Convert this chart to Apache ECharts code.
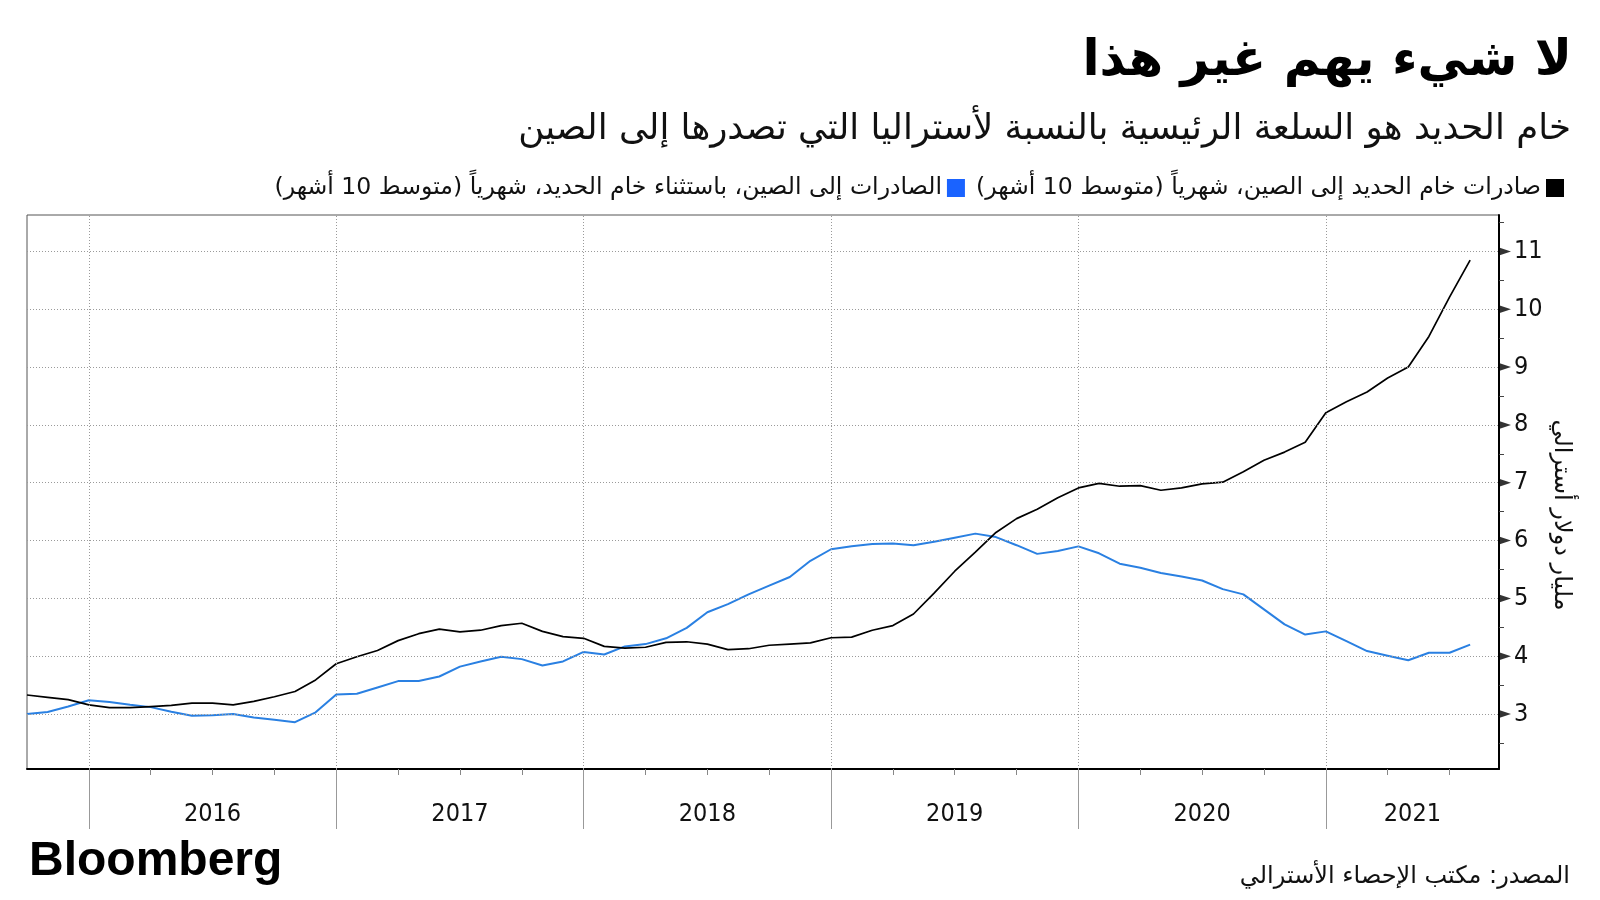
<!DOCTYPE html>
<html>
<head>
<meta charset="utf-8">
<script src="https://cdn.jsdelivr.net/npm/echarts@6/dist/echarts.min.js"></script>
<style>
html,body{margin:0;padding:0;background:#fff;}
#chart{width:1600px;height:900px;direction:rtl;}
</style>
</head>
<body>
<div id="chart"></div>
<script>
// ---- data ----
const startYear = 2015, startMonth = 10;            // first monthly point: Oct 2015
const years = ['2016', '2017', '2018', '2019', '2020', '2021'];
const ironOre = [
  3.33, 3.29, 3.25, 3.16, 3.11, 3.11, 3.13, 3.15, 3.19, 3.19, 3.16, 3.22,
  3.30, 3.39, 3.59, 3.87, 3.99, 4.10, 4.27, 4.39, 4.47, 4.42, 4.45, 4.53,
  4.57, 4.43, 4.34, 4.31, 4.17, 4.14, 4.155, 4.24, 4.25, 4.21, 4.115, 4.13,
  4.19, 4.21, 4.23, 4.32, 4.33, 4.45, 4.53, 4.73, 5.09, 5.47, 5.80, 6.14,
  6.38, 6.54, 6.74, 6.91, 6.99, 6.94, 6.95, 6.87, 6.91, 6.98, 7.01, 7.19,
  7.39, 7.53, 7.70, 8.21, 8.40, 8.57, 8.81, 9.00, 9.53, 10.21, 10.85
];
const otherExports = [
  3.00, 3.035, 3.13, 3.24, 3.21, 3.16, 3.12, 3.04, 2.97, 2.98, 3.00, 2.94,
  2.90, 2.86, 3.03, 3.34, 3.35, 3.46, 3.57, 3.57, 3.65, 3.82, 3.91, 3.99,
  3.95, 3.84, 3.91, 4.075, 4.03, 4.17, 4.21, 4.31, 4.49, 4.76, 4.90, 5.07,
  5.22, 5.37, 5.65, 5.85, 5.90, 5.94, 5.95, 5.92, 5.98, 6.05, 6.12, 6.06,
  5.92, 5.77, 5.82, 5.90, 5.78, 5.60, 5.53, 5.44, 5.38, 5.31, 5.16, 5.07,
  4.81, 4.55, 4.375, 4.43, 4.26, 4.09, 4.01, 3.93, 4.06, 4.06, 4.20
];
const yTickValues = [3, 4, 5, 6, 7, 8, 9, 10, 11];
const yMinorTicks = [2.5, 3.5, 4.5, 5.5, 6.5, 7.5, 8.5, 9.5, 10.5, 11.5];
const yMin = 2.05, yMax = 11.63;
const xMax = 71.4;                                   // axis end in months after Oct 2015

const titleText = 'لا شيء يهم غير هذا';
const subtitleText = 'خام الحديد هو السلعة الرئيسية بالنسبة لأستراليا التي تصدرها إلى الصين';
const seriesNames = [
  'صادرات خام الحديد إلى الصين، شهرياً (متوسط 10 أشهر)',
  'الصادرات إلى الصين، باستثناء خام الحديد، شهرياً (متوسط 10 أشهر)'
];
const yAxisName = 'مليار دولار أسترالي';
const sourceText = 'المصدر: مكتب الإحصاء الأسترالي';
const brandText = 'Bloomberg';

// ---- derived axis positions ----
const yearStart = y => (Number(y) - startYear) * 12 + (1 - startMonth);
const yearStarts = years.map(yearStart);
const yearLabelPos = years.map(y => (Math.max(0, yearStart(y)) + Math.min(xMax, yearStart(y) + 12)) / 2);
const quarterTicks = [];
for (let i = 1; i <= xMax; i++) { if (i % 3 === 0) quarterTicks.push(i); }
const labelMap = {};
yearLabelPos.forEach((p, k) => { labelMap[p.toFixed(3)] = years[k]; });

const AR = "'DejaVu Sans', sans-serif";
const NUM = "'DejaVu Sans Condensed', 'DejaVu Sans', sans-serif";

const chart = echarts.init(document.getElementById('chart'), null, {renderer: 'canvas'});
chart.setOption({
  animation: false,
  backgroundColor: '#ffffff',
  grid: {left: 27, right: 101, top: 215, bottom: 131, show: true, borderColor: '#555', borderWidth: 1, containLabel: false, outerBoundsMode: 'none'},
  legend: {
    right: 31, top: 171, itemWidth: 18, itemHeight: 18, itemGap: 11, align: 'right', icon: 'rect',
    selectedMode: false,
    textStyle: {fontSize: 23.6, fontFamily: AR, color: '#111'},
    data: [
      {name: seriesNames[1], itemStyle: {color: '#1a63ff'}},
      {name: seriesNames[0], itemStyle: {color: '#000'}}
    ]
  },
  xAxis: [
    {
      type: 'value', min: 0, max: xMax, position: 'bottom',
      axisLine: {show: true, onZero: false, lineStyle: {color: '#000', width: 2}},
      axisTick: {show: true, customValues: quarterTicks, length: 6, lineStyle: {color: '#888', width: 1}},
      axisLabel: {customValues: yearLabelPos, formatter: v => labelMap[Number(v).toFixed(3)] || '',
                  fontSize: 25, fontFamily: NUM, color: '#111', margin: 33},
      splitLine: {show: false}
    },
    {
      type: 'value', min: 0, max: xMax, position: 'bottom', offset: 0,
      axisLine: {show: false, onZero: false},
      axisTick: {show: true, customValues: yearStarts, length: 60, lineStyle: {color: '#999', width: 1}},
      axisLabel: {show: false},
      splitLine: {show: false}
    }
  ],
  yAxis: {
    type: 'value', position: 'right', min: yMin, max: yMax,
    axisLine: {show: true, onZero: false, lineStyle: {color: '#000', width: 2}},
    axisTick: {show: true, customValues: yMinorTicks, length: 5, lineStyle: {color: '#444', width: 1}},
    axisLabel: {customValues: yTickValues, fontSize: 25, fontFamily: NUM, color: '#111', margin: 15},
    splitLine: {show: false}
  },
  series: [
    {
      type: 'scatter', xAxisIndex: 0, silent: true, clip: false, z: 1,
      data: yTickValues.map(v => [xMax, v]),
      symbol: 'triangle', symbolSize: [8, 12], symbolRotate: -90, symbolOffset: [6, 0],
      itemStyle: {color: '#000'},
      markLine: {
        silent: true, symbol: ['none', 'none'], label: {show: false},
        lineStyle: {color: '#9a9a9a', type: [1, 2], width: 1},
        data: yTickValues.map(v => ({yAxis: v})).concat(yearStarts.map(x => ({xAxis: x})))
      }
    },
    {
      name: seriesNames[1], type: 'line', xAxisIndex: 0, z: 3,
      data: otherExports.map((v, i) => [i, v]),
      symbol: 'none', lineStyle: {color: '#2a80e2', width: 2}, itemStyle: {color: '#2a80e2'}
    },
    {
      name: seriesNames[0], type: 'line', xAxisIndex: 0, z: 4,
      data: ironOre.map((v, i) => [i, v]),
      symbol: 'none', lineStyle: {color: '#000', width: 1.7}, itemStyle: {color: '#000'}
    }
  ],
  graphic: [
    {type: 'text', x: 1572, y: 62, style: {text: titleText, font: "bold 50px 'DejaVu Sans'", fill: '#000', textAlign: 'right', textVerticalAlign: 'middle'}},
    {type: 'text', x: 1571, y: 130, style: {text: subtitleText, font: "35.6px 'DejaVu Sans'", fill: '#111', textAlign: 'right', textVerticalAlign: 'middle'}},
    {type: 'text', x: 1561, y: 515, rotation: -Math.PI / 2, style: {text: yAxisName, font: "24px 'DejaVu Sans'", fill: '#111', textAlign: 'center', textVerticalAlign: 'middle'}},
    {type: 'text', x: 29, y: 862, style: {text: brandText, font: "bold 48px 'Liberation Sans'", fill: '#000', textAlign: 'left', textVerticalAlign: 'middle'}},
    {type: 'text', x: 1570, y: 877, style: {text: sourceText, font: "24px 'DejaVu Sans'", fill: '#111', textAlign: 'right', textVerticalAlign: 'middle'}}
  ]
});
</script>
</body>
</html>
